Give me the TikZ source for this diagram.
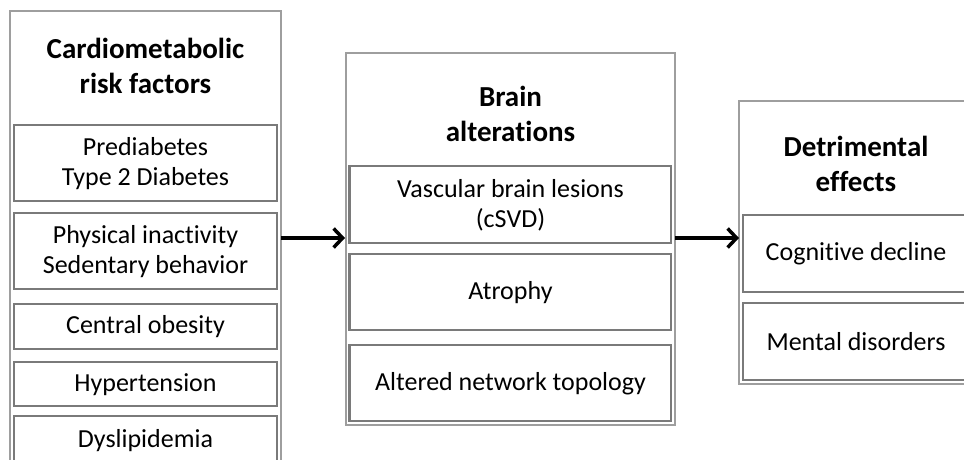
\documentclass[tikz,border=0pt]{standalone}
\usepackage{fontspec}
\setmainfont{Carlito}[Ligatures={NoCommon}]
\usetikzlibrary{arrows.meta}
\tikzset{
  outerbox/.style={draw=black!38, line width=1.4pt, fill=white},
  innerbox/.style={draw=black!52, line width=2.4pt, fill=white, inner sep=0pt},
  head/.style={font=\fontsize{29}{35}\selectfont\bfseries, align=center, inner sep=0pt},
  body/.style={font=\fontsize{26}{30}\selectfont, align=center, inner sep=0pt},
  conn/.style={line width=3.5pt, -{Straight Barb[length=9pt,width=19pt,line width=3.5pt]}},
}
\begin{document}
\begin{tikzpicture}[x=1pt,y=-1pt]
\useasboundingbox (0,0) rectangle (964,460);
\clip (0,0) rectangle (964,460);
\fill[white] (0,0) rectangle (964,460);
% left column
\draw[outerbox] (10,11) rectangle (281,475);
\node[head] (h1) at (145.5,66) {Cardiometabolic\\risk factors};
\draw[innerbox] (14,125) rectangle (277,201);
\node[body] (l1) at (145.5,164) {Prediabetes\\Type 2 Diabetes};
\draw[innerbox] (14,213) rectangle (277,289);
\node[body] (l2) at (145.5,252) {Physical inactivity\\Sedentary behavior};
\draw[innerbox] (14,304) rectangle (277,349);
\node[body] (l3) at (145.5,327) {Central obesity};
\draw[innerbox] (14,362) rectangle (277,406);
\node[body] (l4) at (145.5,385) {Hypertension};
\draw[innerbox] (14,416) rectangle (277,468);
\node[body] (l5) at (145.5,441) {Dyslipidemia};
\coordinate (lr) at (281,238);
% middle column
\draw[outerbox] (346,53) rectangle (675,425);
\node[head] (h2) at (510.5,114) {Brain\\alterations};
\draw[innerbox] (349.5,166) rectangle (671,243);
\node[body] (m1) at (510.5,205) {Vascular brain lesions\\(cSVD)};
\draw[innerbox] (349.5,254) rectangle (671,330);
\node[body] (m2) at (510.5,293) {Atrophy};
\draw[innerbox] (349.5,345) rectangle (671,421);
\node[body] (m3) at (510.5,384) {Altered network topology};
\coordinate (ml) at (345,238);
\coordinate (mr) at (675,238);
% right column
\draw[outerbox] (739,101) rectangle (975,384);
\node[head] (h3) at (856,164) {Detrimental\\effects};
\draw[innerbox] (743,215) rectangle (970,292);
\node[body] (r1) at (856,254) {Cognitive decline};
\draw[innerbox] (743,303) rectangle (970,380);
\node[body] (r2) at (856,342) {Mental disorders};
\coordinate (rl) at (739,238);
% arrows
\draw[conn] (lr) -- (ml);
\draw[conn] (mr) -- (rl);
\end{tikzpicture}
\end{document}
